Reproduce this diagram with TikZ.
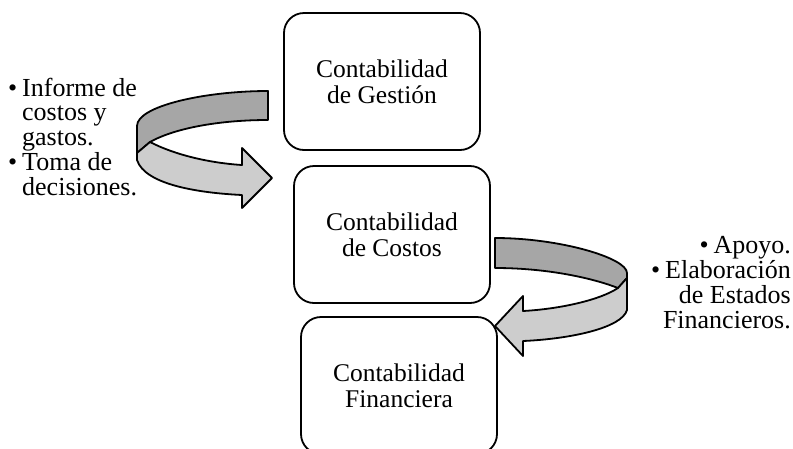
\documentclass[tikz,border=0pt]{standalone}
\usepackage{fontspec}
\setmainfont{Liberation Serif}
\definecolor{bandDark}{RGB}{166,166,166}
\definecolor{bandLight}{RGB}{205,205,205}
\begin{document}
\begin{tikzpicture}[x=1pt,y=-1pt,
  box/.style={draw, line width=1.8pt, rounded corners=20pt, minimum width=196pt, minimum height=137pt, align=center, inner sep=0pt, font=\fontsize{25.5}{26}\selectfont},
  darkband/.style={draw, fill=bandDark, line width=1.8pt, line join=round},
  lightband/.style={draw, fill=bandLight, line width=1.8pt, line join=round},
  side/.style={inner sep=0pt, font=\fontsize{26}{24.5}\selectfont}]
\useasboundingbox (0,0) rectangle (793,448);
\clip (0,0) rectangle (793,448);
% boxes
\node[box] (gestion) at (382,81.5) {Contabilidad\\de Gestión};
\node[box] (costos) at (392,234.5) {Contabilidad\\de Costos};
\node[box] (financiera) at (399,385.5) {Contabilidad\\Financiera};
% left ribbon arrow
\path[darkband] (268,91) .. controls (205,91) and (137,106) .. (137,126) -- (137,153) -- (150,142)
  .. controls (175,128) and (220,120) .. (268,120) -- cycle;
\path[lightband] (150,142) .. controls (175,155) and (210,163) .. (242,165) -- (242,148) -- (272,178)
  -- (242,208) -- (242,195) .. controls (200,193) and (145,185) .. (137,160) -- (137,153) -- cycle;
% right ribbon arrow
\path[darkband] (495,238) .. controls (560,238) and (627,258) .. (627,273) -- (627,278) -- (618,288)
  .. controls (595,279) and (550,268) .. (495,268) -- cycle;
\path[lightband] (618,288) -- (627,278) -- (627,310) .. controls (622,328) and (570,339) .. (523,341)
  -- (523,356) -- (495,326) -- (523,296) -- (523,311) .. controls (560,309) and (600,300) .. (618,288) -- cycle;
% side notes
\node[side, anchor=base west] (leftnotes) at (8,96) {\begin{tabular}[t]{@{}l@{}l@{}}\makebox[14pt][l]{•} & Informe de\\ & costos y\\ & gastos.\\ \makebox[14pt][l]{•} & Toma de\\ & decisiones.\end{tabular}};
\node[side, anchor=base east] (rightnotes) at (791,253) {\begin{tabular}[t]{@{}r@{}}\makebox[14pt][l]{•}Apoyo.\\ \makebox[14pt][l]{•}Elaboración\\ de Estados\\ Financieros.\end{tabular}};
\end{tikzpicture}
\end{document}
